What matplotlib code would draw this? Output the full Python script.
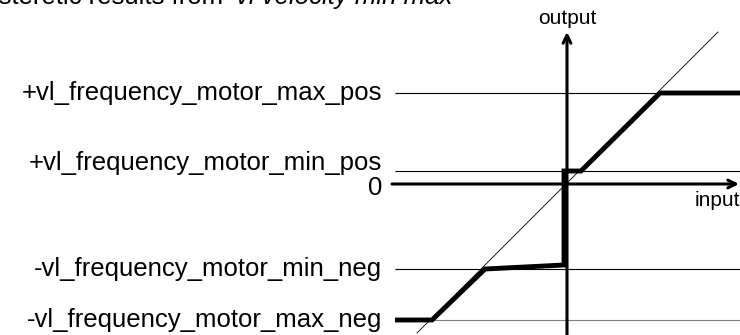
import matplotlib.pyplot as plt

# output levels (drawing units, origin at the axis crossing)
levels = [91, 13, 0, -85, -136]
level_labels = ["+vl_frequency_motor_max_pos", "+vl_frequency_motor_min_pos", "0",
                "-vl_frequency_motor_min_neg", "-vl_frequency_motor_max_neg"]
level_colors = ["black", "black", None, "black", "#808080"]

# hysteresis response (input -> output)
resp_x = [-171, -134, -81, -2, -2, 15, 94, 174]
resp_y = [-136, -136, -85, -81, 13, 13, 91, 91]

# identity reference line
ident = [-149, 152]

plt.rcParams["font.family"] = ["Liberation Sans", "DejaVu Sans"]

fig = plt.figure(figsize=(7.4, 3.35), dpi=100)
ax = fig.add_axes([0, 0, 1, 1])
ax.set_xlim(-566, 174)
ax.set_ylim(-151, 184)
ax.axis("off")

# thin level lines
for lv, c in zip(levels, level_colors):
    if c is None:
        continue
    ax.plot([-171, 174], [lv, lv], color=c, lw=0.8, solid_capstyle="butt")

# identity diagonal
ax.plot(ident, ident, color="black", lw=0.6)

# axes with open arrow heads
ax.annotate("", xy=(173, 0), xytext=(-174, 0), annotation_clip=False,
            arrowprops=dict(arrowstyle="->", lw=2.2, color="black",
                            shrinkA=0, shrinkB=0, mutation_scale=14))
ax.annotate("", xy=(1, 152), xytext=(1, -151), annotation_clip=False,
            arrowprops=dict(arrowstyle="->", lw=2.2, color="black",
                            shrinkA=0, shrinkB=0, mutation_scale=14))

# response curve
ax.plot(resp_x, resp_y, color="black", lw=3.5, solid_joinstyle="miter",
        solid_capstyle="butt")

# level labels
offsets = {1: 8, 2: -4}
for i, (lv, lab) in enumerate(zip(levels, level_labels)):
    ax.annotate(lab, xy=(-184, lv), xytext=(0, offsets.get(i, 0) * 0.72),
                textcoords="offset points", ha="right", va="center",
                fontsize=18.5)

ax.text(1, 166, "output", ha="center", va="center", fontsize=15)
ax.text(129, -16, "input", ha="left", va="center", fontsize=15)

# title, clipped at the top edge
fig.text(230 / 740, 1 - 4 / 335, "Hysteretic results from ", ha="right",
         va="baseline", fontsize=18.5)
fig.text(236 / 740, 1 - 4 / 335, "vl velocity min max", ha="left",
         va="baseline", fontsize=18.5, style="italic")

fig.savefig("out.png", dpi=100)
